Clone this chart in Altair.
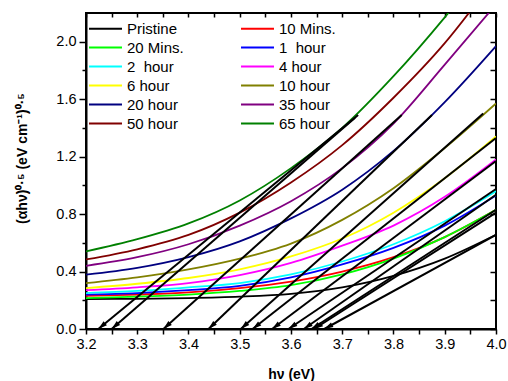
import altair as alt
import pandas as pd

# ---------------- data ----------------
x_ev = [3.2, 3.3, 3.4, 3.5, 3.6, 3.7, 3.8, 3.9, 4.0]

series = ["Pristine", "10 Mins.", "20 Mins.", "1\u00a0\u00a0hour", "2\u00a0\u00a0hour",
          "4 hour", "6 hour", "10 hour", "20 hour", "35 hour", "50 hour", "65 hour"]
colors = ["#000000", "#FF0000", "#00FF00", "#0000FF", "#00FFFF", "#FF00FF",
          "#FFFF00", "#808000", "#000080", "#800080", "#800000", "#008000"]

pristine = [0.209, 0.210, 0.215, 0.225, 0.245, 0.290, 0.370, 0.490, 0.656]
m10 = [0.230, 0.240, 0.255, 0.285, 0.330, 0.400, 0.500, 0.640, 0.830]
m20 = [0.215, 0.225, 0.240, 0.265, 0.305, 0.380, 0.490, 0.640, 0.830]
h1 = [0.240, 0.250, 0.270, 0.300, 0.360, 0.450, 0.565, 0.720, 0.930]
h2 = [0.250, 0.265, 0.290, 0.320, 0.380, 0.470, 0.590, 0.750, 0.960]
h4 = [0.270, 0.290, 0.320, 0.375, 0.460, 0.580, 0.720, 0.920, 1.180]
h6 = [0.285, 0.315, 0.355, 0.415, 0.505, 0.630, 0.810, 1.050, 1.340]
h10 = [0.320, 0.360, 0.415, 0.490, 0.595, 0.760, 0.980, 1.260, 1.570]
h20 = [0.378, 0.425, 0.500, 0.610, 0.770, 0.970, 1.240, 1.580, 1.970]
h35 = [0.440, 0.500, 0.590, 0.720, 0.890, 1.120, 1.430, 1.840, 2.260]
h50 = [0.484, 0.555, 0.655, 0.810, 1.020, 1.280, 1.610, 1.990, 2.450]
h65 = [0.540, 0.625, 0.735, 0.895, 1.120, 1.400, 1.760, 2.170, 2.620]
curves_vals = [pristine, m10, m20, h1, h2, h4, h6, h10, h20, h35, h50, h65]

# legend layout: first column then second column (as in the figure)
legend_order = ["Pristine", "20 Mins.", "2\u00a0\u00a0hour", "6 hour", "20 hour", "50 hour",
                "10 Mins.", "1\u00a0\u00a0hour", "4 hour", "10 hour", "35 hour", "65 hour"]

# tangent (Tauc) lines: x-intercept and upper end point
tan_x0 = [3.665, 3.640, 3.645, 3.625, 3.595, 3.563, 3.525, 3.502, 3.439, 3.351, 3.250, 3.224]
tan_x1 = [4.000, 4.000, 4.000, 4.000, 4.000, 4.000, 4.000, 3.975, 3.875, 3.816, 3.725, 3.731]
tan_y1 = [0.656, 0.830, 0.810, 0.935, 0.975, 1.170, 1.330, 1.500, 1.490, 1.490, 1.470, 1.490]

x_ticks = [round(3.2 + 0.05 * i, 2) for i in range(17)]
y_ticks = [round(0.2 * i, 1) for i in range(11)]

color_of = dict(zip(series, colors))
legend_colors = [color_of[s] for s in legend_order]

rows = []
for name, vals in zip(series, curves_vals):
    for xv, yv in zip(x_ev, vals):
        rows.append({"series": name, "hv": xv, "val": yv})
df = pd.DataFrame(rows)
tdf = pd.DataFrame({"series": series, "x0": tan_x0, "x1": tan_x1, "y1": tan_y1,
                    "y0": [0.0] * len(series)})

W, H = 410, 316
FONT = "Liberation Sans"

xscale = alt.Scale(domain=[3.2, 4.0], nice=False, zero=False)
yscale = alt.Scale(domain=[0, 2.2], nice=False, zero=False)

x_axis = alt.Axis(
    values=x_ticks,
    labelExpr="abs(round(datum.value*20)) % 2 == 0 ? format(datum.value, '.1f') : ''",
    title="h\u03bd (eV)", titleFont=FONT, titleFontSize=14, titleFontWeight="bold",
    titleColor="black", titleY=38, titleBaseline="top",
    labelFont=FONT, labelFontSize=14.5, labelColor="black", labelPadding=3,
    labelFlush=False, labelOverlap=False,
    tickSize=5, tickColor="black", tickWidth=1.5,
    domainColor="black", domainWidth=2, grid=False,
)
y_axis = alt.Axis(
    values=y_ticks,
    labelExpr="abs(round(datum.value*10)) % 4 == 0 ? format(datum.value, '.1f') : ''",
    title="(\u03b1h\u03bd)\u2070\u00b7\u2075 (eV cm\u207b\u00b9)\u2070\u00b7\u2075",
    titleFont=FONT, titleFontSize=14, titleFontWeight="bold", titleColor="black",
    titleX=-64, titleY=145, titleAngle=270, titleAlign="center", titleBaseline="middle",
    labelFont=FONT, labelFontSize=14.5, labelColor="black", labelPadding=3,
    labelFlush=False, labelOverlap=False,
    tickSize={"condition": {"test": "abs(round(datum.value*10)) % 4 == 0", "value": 7}, "value": 4},
    tickColor="black", tickWidth=1.5,
    domainColor="black", domainWidth=2, grid=False,
)

curves = alt.Chart(df).mark_line(strokeWidth=1.8, interpolate="monotone", clip=True).encode(
    x=alt.X("hv:Q", scale=xscale, axis=x_axis),
    y=alt.Y("val:Q", scale=yscale, axis=y_axis),
    color=alt.Color(
        "series:N",
        scale=alt.Scale(domain=legend_order, range=legend_colors),
        legend=alt.Legend(
            orient="none", legendX=10, legendY=6, columns=2, title=None,
            symbolType="M-2,0H2", symbolSize=272, symbolStrokeWidth=2,
            labelFont=FONT, labelFontSize=15, labelColor="black", labelOffset=12,
            columnPadding=53, rowPadding=1, padding=0, labelLimit=200,
        ),
    ),
)

rules = alt.Chart(tdf).mark_rule(color="black", strokeWidth=2).encode(
    x=alt.X("x0:Q", scale=xscale, axis=None),
    y=alt.Y("y0:Q", scale=yscale, axis=None),
    x2="x1:Q",
    y2="y1:Q",
)

arrows = alt.Chart(tdf).transform_calculate(
    spx=f"(datum.y1/(datum.x1-datum.x0))*({H}/2.2)/({W}/0.8)",
    ang="180 + atan(1/datum.spx)*180/PI",
).mark_point(shape="M0,0L-0.55,1.9L0.55,1.9Z", filled=True, color="black",
             size=90, opacity=1).encode(
    x=alt.X("x0:Q", scale=xscale, axis=None),
    y=alt.Y("y0:Q", scale=yscale, axis=None),
    angle=alt.Angle("ang:Q", scale=None),
)

frame = alt.Chart(df).mark_point(opacity=0, clip=True).encode(
    x=alt.X("hv:Q", scale=xscale,
            axis=alt.Axis(orient="top", values=x_ticks, labels=False, title=None,
                          domain=False, tickSize=4, offset=-4, tickColor="black",
                          tickWidth=1.5, grid=False)),
    y=alt.Y("val:Q", scale=yscale,
            axis=alt.Axis(orient="right", values=y_ticks, labels=False, title=None,
                          domain=False, tickSize=6, offset=-6, tickColor="black",
                          tickWidth=1.5, grid=False)),
)

chart = alt.layer(curves, rules, arrows, frame).resolve_axis(
    x="independent", y="independent"
).properties(
    width=W, height=H,
    autosize=alt.AutoSizeParams(type="none"),
    padding={"left": 86, "top": 13, "right": 12, "bottom": 52},
).configure_view(stroke="black", strokeWidth=2)

chart.save("out.html", embed_options={"renderer": "svg", "actions": False})
